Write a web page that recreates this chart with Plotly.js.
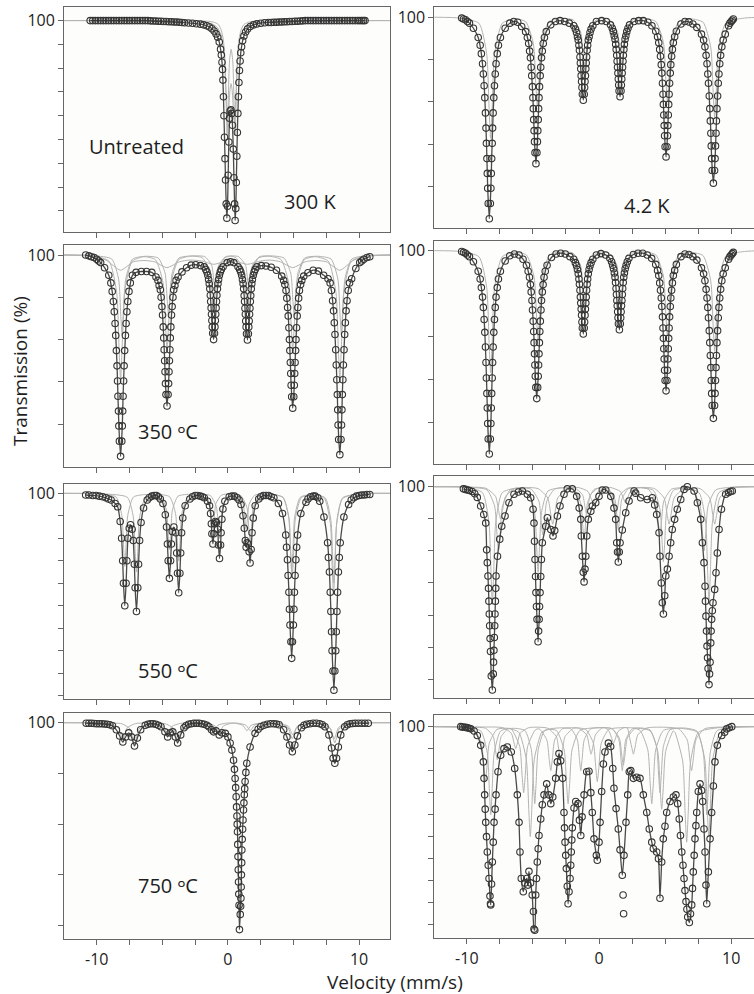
<!DOCTYPE html>
<html><head><meta charset="utf-8">
<script src="https://cdn.plot.ly/plotly-3.0.1.min.js"></script>
<style>html,body{margin:0;padding:0;overflow:hidden;background:#fff}#chart{width:780px;height:994px}</style>
</head><body><div id="chart"></div>
<script>
// ---------- tick labels ----------
const xTickVals = [-10,0,10];
const xTickText = ['-10','0','10'];
const xMinorVals = [-7.5,-5,-2.5,2.5,5,7.5];
const yTicksP1 = [92,93,94,95,96,97,98,99,100];
const yTicksP2 = [80,85,90,95,100];
const yTicksP3 = [80,85,90,95,100];
const yTicksP4 = [80,85,90,95,100];
const yTicksP5 = [82,84,86,88,90,92,94,96,98,100];
const yTicksP6 = [82,85,88,91,94,97,100];
const yTicksP7 = [80,85,90,95,100];
const yTicksP8 = [82,84,86,88,90,92,94,96,98,100];
const panelLabels = ['Untreated','300 K','4.2 K','350 \u1D52C','550 \u1D52C','750 \u1D52C'];

// ---------- observed spectra [velocity mm/s, transmission %] ----------
const p1Data = [[-10.5,100],[-10.1,100],[-9.7,100],[-9.3,100],[-8.9,100],[-8.5,100],[-8.1,100],[-7.7,100],[-7.3,100],[-6.9,100],[-6.5,100],[-6.1,100],[-5.7,99.98],[-5.3,99.97],[-4.9,99.96],[-4.5,99.95],[-4.1,99.94],[-3.7,99.93],[-3.3,99.91],[-3.0,99.9],[-2.7,99.89],[-2.4,99.87],[-2.1,99.85],[-1.85,99.82],[-1.6,99.78],[-1.4,99.73],[-1.22,99.66],[-1.05,99.56],[-0.9,99.44],[-0.78,99.3],[-0.66,99.1],[-0.56,98.8],[-0.5,98.55],[-0.45,98.25],[-0.41,97.95],[-0.38,97.5],[-0.34,96.8],[-0.3,96.0],[-0.26,95.1],[-0.22,94.2],[-0.18,93.3],[-0.13,92.3],[-0.08,91.7],[-0.03,92.2],[0.02,93.5],[0.07,94.9],[0.12,95.9],[0.17,96.2],[0.23,96.25],[0.29,96.1],[0.35,95.6],[0.41,94.6],[0.46,93.4],[0.51,92.3],[0.55,91.6],[0.6,92.1],[0.64,93.2],[0.68,94.3],[0.72,95.3],[0.76,96.1],[0.8,96.8],[0.84,97.4],[0.88,97.9],[0.93,98.3],[0.98,98.65],[1.04,98.9],[1.12,99.15],[1.22,99.35],[1.35,99.52],[1.5,99.65],[1.7,99.75],[1.95,99.82],[2.2,99.86],[2.5,99.89],[2.8,99.91],[3.1,99.92],[3.5,99.93],[3.9,99.94],[4.3,99.95],[4.7,99.96],[5.1,99.97],[5.5,99.98],[5.9,100],[6.3,100],[6.7,100],[7.1,100],[7.5,100],[7.9,100],[8.3,100],[8.7,100],[9.1,100],[9.5,100],[9.9,100],[10.2,100],[10.45,100]];
const p1Extra = [[-10.3,100],[-9.9,100],[-9.5,100],[-9.1,100],[-8.7,100],[-8.3,100],[-7.9,100],[-7.5,100],[-7.1,100],[-6.7,100],[-6.3,100],[-5.9,99.99],[-5.5,99.98],[-5.1,99.97],[-4.7,99.96],[-4.3,99.95],[-3.9,99.94],[-3.5,99.92],[3.3,99.92],[3.7,99.93],[4.1,99.94],[4.5,99.95],[4.9,99.96],[5.3,99.97],[5.7,99.99],[6.1,100],[6.5,100],[6.9,100],[7.3,100],[7.7,100],[8.1,100],[8.5,100],[8.9,100],[9.3,100],[9.7,100],[10.05,100],[10.33,100]];

const p2Data = [[-10.39,99.9],[-10.1,99.7],[-9.8,99.3],[-9.5,98.7],[-9.14,97.6],[-8.90,95.7],[-8.75,93.3],[-8.64,90.5],[-8.55,86.9],[-8.48,83.3],[-8.42,79.8],[-8.30,76.2],[-8.18,79.8],[-8.12,83.3],[-8.05,86.9],[-7.96,90.5],[-7.85,93.3],[-7.70,95.7],[-7.46,97.6],[-7.1,98.7],[-6.75,99.3],[-6.45,99.5],[-6.15,99.4],[-5.85,98.9],[-5.55,98.3],[-5.32,96.9],[-5.19,95.2],[-5.09,93.1],[-5.00,90.5],[-4.94,87.9],[-4.88,85.3],[-4.77,82.7],[-4.66,85.3],[-4.60,87.9],[-4.54,90.5],[-4.45,93.1],[-4.35,95.2],[-4.22,96.9],[-3.99,98.3],[-3.65,99.1],[-3.3,99.5],[-2.95,99.6],[-2.6,99.5],[-2.25,99.3],[-1.91,99.0],[-1.70,98.2],[-1.57,97.3],[-1.48,96.1],[-1.41,94.6],[-1.35,93.1],[-1.29,91.7],[-1.19,90.2],[-1.09,91.7],[-1.03,93.1],[-0.97,94.6],[-0.90,96.1],[-0.81,97.3],[-0.68,98.2],[-0.47,99.0],[-0.2,99.5],[0.2,99.6],[0.55,99.5],[0.87,99.1],[1.08,98.3],[1.21,97.4],[1.30,96.2],[1.37,94.8],[1.43,93.4],[1.49,92.0],[1.59,90.6],[1.69,92.0],[1.75,93.4],[1.81,94.8],[1.88,96.2],[1.97,97.4],[2.10,98.3],[2.31,99.1],[2.65,99.5],[3.0,99.6],[3.35,99.6],[3.7,99.4],[4.0,99.0],[4.29,98.35],[4.52,97.0],[4.65,95.4],[4.75,93.4],[4.84,90.9],[4.90,88.45],[4.96,86.0],[5.07,83.5],[5.18,86.0],[5.24,88.45],[5.30,90.9],[5.39,93.4],[5.49,95.4],[5.62,97.0],[5.85,98.35],[6.2,99.2],[6.5,99.5],[6.8,99.45],[7.1,99.2],[7.4,98.8],[7.75,98.0],[8.01,96.5],[8.17,94.5],[8.28,92.2],[8.38,89.2],[8.46,86.3],[8.52,83.3],[8.65,80.4],[8.78,83.3],[8.85,86.3],[8.92,89.2],[9.02,92.2],[9.13,94.5],[9.29,96.5],[9.55,98.0],[9.8,99.0],[10.0,99.5],[10.16,99.8]];
const p2Extra = [[-10.25,99.8],[-9.95,99.5],[-8.38,78.0],[-8.45,81.55],[-8.52,85.1],[-8.59,88.7],[-8.69,91.9],[-8.81,94.5],[-8.99,96.7],[-8.22,78.0],[-8.15,81.55],[-8.08,85.1],[-8.01,88.7],[-7.91,91.9],[-7.79,94.5],[-7.61,96.7],[-4.84,84.0],[-4.91,86.6],[-4.97,89.2],[-5.04,91.8],[-5.13,94.1],[-5.25,96.0],[-5.42,97.6],[-4.70,84.0],[-4.63,86.6],[-4.57,89.2],[-4.50,91.8],[-4.41,94.1],[-4.29,96.0],[-4.13,97.6],[-1.26,90.9],[-1.32,92.4],[-1.38,93.9],[-1.44,95.3],[-1.52,96.7],[-1.63,97.7],[-1.79,98.6],[-1.12,90.9],[-1.06,92.4],[-1.0,93.9],[-0.94,95.3],[-0.86,96.7],[-0.75,97.7],[-0.6,98.6],[1.52,91.3],[1.46,92.7],[1.40,94.1],[1.34,95.5],[1.26,96.8],[1.15,97.8],[1.0,98.7],[1.66,91.3],[1.72,92.7],[1.78,94.1],[1.84,95.5],[1.92,96.8],[2.03,97.8],[2.19,98.7],[5.0,84.7],[4.93,87.2],[4.87,89.7],[4.80,92.2],[4.71,94.4],[4.59,96.2],[4.43,97.7],[5.14,84.7],[5.21,87.2],[5.27,89.7],[5.34,92.2],[5.43,94.4],[5.55,96.2],[5.72,97.7],[8.56,81.9],[8.49,84.8],[8.42,87.75],[8.34,90.7],[8.23,93.3],[8.10,95.5],[7.91,97.3],[8.74,81.9],[8.81,84.8],[8.88,87.75],[8.97,90.7],[9.07,93.3],[9.20,95.5],[9.39,97.3],[9.9,99.3],[10.08,99.65]];

const p3Data = [[-10.84,100.0],[-10.4,99.8],[-10.0,99.5],[-9.7,99.1],[-9.4,98.5],[-9.08,97.6],[-8.82,95.7],[-8.66,93.3],[-8.55,90.5],[-8.45,86.9],[-8.38,83.3],[-8.31,79.8],[-8.18,76.2],[-8.05,79.8],[-7.99,83.3],[-7.91,86.9],[-7.81,90.5],[-7.70,93.3],[-7.54,95.7],[-7.28,97.6],[-7.0,97.95],[-6.6,98.05],[-6.2,98.05],[-5.8,97.95],[-5.48,97.4],[-5.24,96.4],[-5.09,95.0],[-4.98,92.9],[-4.89,90.2],[-4.82,87.5],[-4.76,84.8],[-4.64,82.15],[-4.52,84.8],[-4.46,87.5],[-4.39,90.2],[-4.30,92.9],[-4.19,95.0],[-4.04,96.4],[-3.80,97.4],[-3.5,98.0],[-3.15,98.5],[-2.8,98.8],[-2.45,98.85],[-2.1,98.75],[-1.81,98.6],[-1.60,98.0],[-1.47,97.1],[-1.38,96.0],[-1.31,94.5],[-1.25,93.0],[-1.19,91.5],[-1.09,90.0],[-0.99,91.5],[-0.93,93.0],[-0.87,94.5],[-0.80,96.0],[-0.71,97.1],[-0.58,98.0],[-0.37,98.6],[-0.05,99.1],[0.2,99.2],[0.45,99.1],[0.77,98.6],[0.98,98.0],[1.11,97.1],[1.20,96.0],[1.27,94.5],[1.33,93.0],[1.39,91.5],[1.49,89.95],[1.59,91.5],[1.65,93.0],[1.71,94.5],[1.78,96.0],[1.87,97.1],[2.00,98.0],[2.21,98.6],[2.55,98.75],[2.9,98.7],[3.3,98.55],[3.7,98.2],[4.10,97.5],[4.34,96.5],[4.49,94.9],[4.60,92.8],[4.69,90.0],[4.76,87.3],[4.82,84.6],[4.94,81.9],[5.06,84.6],[5.12,87.3],[5.19,90.0],[5.28,92.8],[5.39,94.9],[5.54,96.5],[5.78,97.5],[6.1,97.9],[6.5,98.2],[6.9,98.1],[7.3,97.6],[7.63,97.2],[7.89,95.8],[8.05,93.4],[8.16,90.6],[8.26,87.0],[8.34,83.5],[8.40,79.9],[8.53,76.4],[8.66,79.9],[8.72,83.5],[8.80,87.0],[8.90,90.6],[9.01,93.4],[9.17,95.8],[9.43,97.2],[9.75,98.4],[10.05,99.1],[10.35,99.5],[10.81,99.8]];
const p3Extra = [[-10.6,99.9],[-10.2,99.7],[-9.85,99.3],[-8.27,78.0],[-8.34,81.55],[-8.41,85.1],[-8.50,88.7],[-8.60,91.9],[-8.73,94.5],[-8.92,96.7],[-8.09,78.0],[-8.02,81.55],[-7.95,85.1],[-7.87,88.7],[-7.76,91.9],[-7.63,94.5],[-7.44,96.7],[-4.72,83.5],[-4.79,86.2],[-4.86,88.8],[-4.93,91.5],[-5.03,93.9],[-5.15,95.9],[-5.33,97.0],[-4.56,83.5],[-4.49,86.2],[-4.42,88.8],[-4.35,91.5],[-4.25,93.9],[-4.13,95.9],[-3.95,97.0],[-1.16,90.75],[-1.22,92.25],[-1.28,93.75],[-1.34,95.25],[-1.42,96.6],[-1.53,97.6],[-1.69,98.3],[-1.02,90.75],[-0.96,92.25],[-0.9,93.75],[-0.84,95.25],[-0.76,96.6],[-0.65,97.6],[-0.5,98.3],[1.42,90.7],[1.36,92.2],[1.30,93.7],[1.24,95.2],[1.16,96.6],[1.05,97.6],[0.9,98.3],[1.56,90.7],[1.62,92.2],[1.68,93.7],[1.74,95.2],[1.82,96.6],[1.93,97.6],[2.08,98.3],[4.86,83.25],[4.79,86.0],[4.72,88.7],[4.65,91.4],[4.55,93.8],[4.43,95.8],[4.25,97.0],[5.02,83.25],[5.09,86.0],[5.16,88.7],[5.23,91.4],[5.33,93.8],[5.45,95.8],[5.63,97.0],[8.44,78.2],[8.37,81.7],[8.30,85.25],[8.22,88.8],[8.11,92.0],[7.98,94.6],[7.79,96.7],[8.62,78.2],[8.69,81.7],[8.76,85.25],[8.85,88.8],[8.95,92.0],[9.08,94.6],[9.27,96.7],[10.2,99.3],[10.6,99.7]];

const p4Data = [[-10.39,99.9],[-10.1,99.7],[-9.8,99.3],[-9.5,98.7],[-9.14,97.6],[-8.90,95.7],[-8.75,93.4],[-8.64,90.5],[-8.55,87.0],[-8.48,83.4],[-8.42,79.9],[-8.30,76.35],[-8.18,79.9],[-8.12,83.4],[-8.05,87.0],[-7.96,90.5],[-7.85,93.4],[-7.70,95.7],[-7.46,97.6],[-7.1,98.8],[-6.75,99.4],[-6.4,99.6],[-6.05,99.5],[-5.75,99.0],[-5.49,98.3],[-5.26,96.9],[-5.13,95.2],[-5.03,93.1],[-4.94,90.6],[-4.88,88.0],[-4.82,85.4],[-4.71,82.8],[-4.60,85.4],[-4.54,88.0],[-4.48,90.6],[-4.39,93.1],[-4.29,95.2],[-4.16,96.9],[-3.93,98.3],[-3.6,99.2],[-3.25,99.6],[-2.9,99.7],[-2.55,99.6],[-2.2,99.3],[-1.91,99.0],[-1.70,98.25],[-1.57,97.3],[-1.48,96.1],[-1.41,94.6],[-1.35,93.2],[-1.29,91.7],[-1.19,90.3],[-1.09,91.7],[-1.03,93.2],[-0.97,94.6],[-0.90,96.1],[-0.81,97.3],[-0.68,98.25],[-0.47,99.0],[-0.2,99.5],[0.15,99.65],[0.5,99.5],[0.82,99.1],[1.03,98.3],[1.16,97.4],[1.25,96.3],[1.32,94.9],[1.38,93.6],[1.44,92.2],[1.54,90.8],[1.64,92.2],[1.70,93.6],[1.76,94.9],[1.83,96.3],[1.92,97.4],[2.05,98.3],[2.26,99.1],[2.6,99.55],[2.95,99.7],[3.3,99.7],[3.65,99.5],[3.98,99.1],[4.29,98.4],[4.52,97.1],[4.65,95.4],[4.75,93.5],[4.84,91.0],[4.90,88.6],[4.96,86.1],[5.07,83.7],[5.18,86.1],[5.24,88.6],[5.30,91.0],[5.39,93.5],[5.49,95.4],[5.62,97.1],[5.85,98.4],[6.2,99.3],[6.5,99.6],[6.8,99.55],[7.1,99.3],[7.4,98.9],[7.75,98.0],[8.01,96.5],[8.17,94.5],[8.28,92.2],[8.38,89.3],[8.46,86.4],[8.52,83.4],[8.65,80.5],[8.78,83.4],[8.85,86.4],[8.92,89.3],[9.02,92.2],[9.13,94.5],[9.29,96.5],[9.55,98.0],[9.8,99.0],[10.0,99.5],[10.16,99.8]];
const p4Extra = [[-10.25,99.8],[-9.95,99.5],[-8.38,78.1],[-8.45,81.7],[-8.52,85.2],[-8.59,88.8],[-8.69,92.0],[-8.81,94.6],[-8.99,96.7],[-8.22,78.1],[-8.15,81.7],[-8.08,85.2],[-8.01,88.8],[-7.91,92.0],[-7.79,94.6],[-7.61,96.7],[-4.78,84.1],[-4.85,86.7],[-4.91,89.3],[-4.98,91.8],[-5.07,94.2],[-5.19,96.05],[-5.36,97.6],[-4.64,84.1],[-4.57,86.7],[-4.51,89.3],[-4.44,91.8],[-4.35,94.2],[-4.23,96.05],[-4.07,97.6],[-1.26,91.0],[-1.32,92.5],[-1.38,93.9],[-1.44,95.4],[-1.52,96.7],[-1.63,97.8],[-1.79,98.6],[-1.12,91.0],[-1.06,92.5],[-1.0,93.9],[-0.94,95.4],[-0.86,96.7],[-0.75,97.8],[-0.6,98.6],[1.47,91.5],[1.41,92.9],[1.35,94.2],[1.29,95.6],[1.21,96.9],[1.10,97.9],[0.95,98.7],[1.61,91.5],[1.67,92.9],[1.73,94.2],[1.79,95.6],[1.87,96.9],[1.98,97.9],[2.14,98.7],[5.0,84.9],[4.93,87.4],[4.87,89.8],[4.80,92.3],[4.71,94.5],[4.59,96.25],[4.43,97.7],[5.14,84.9],[5.21,87.4],[5.27,89.8],[5.34,92.3],[5.43,94.5],[5.55,96.25],[5.72,97.7],[8.56,82.0],[8.49,84.9],[8.42,87.8],[8.34,90.7],[8.23,93.4],[8.10,95.5],[7.91,97.3],[8.74,82.0],[8.81,84.9],[8.88,87.8],[8.97,90.7],[9.07,93.4],[9.20,95.5],[9.39,97.3],[9.9,99.3],[10.08,99.65]];

const p5Data = [[-10.84,99.85],[-10.3,99.8],[-9.8,99.75],[-9.3,99.6],[-8.9,99.4],[-8.6,99.1],[-8.40,98.8],[-8.21,97.5],[-8.10,96.0],[-8.02,94.0],[-7.96,92.0],[-7.86,90.0],[-7.76,92.0],[-7.70,94.0],[-7.62,96.0],[-7.52,96.9],[-7.42,97.2],[-7.3,96.8],[-7.21,95.8],[-7.13,93.7],[-7.07,91.6],[-6.97,89.5],[-6.87,91.6],[-6.81,93.7],[-6.73,95.8],[-6.62,97.4],[-6.43,98.7],[-6.15,99.4],[-5.8,99.75],[-5.45,99.8],[-5.15,99.5],[-4.95,99.1],[-4.77,98.1],[-4.68,97.0],[-4.61,95.5],[-4.55,94.0],[-4.46,92.44],[-4.37,94.0],[-4.31,95.5],[-4.24,96.6],[-4.12,97.0],[-3.97,96.5],[-3.90,94.7],[-3.84,92.9],[-3.75,91.16],[-3.66,92.9],[-3.60,94.7],[-3.53,96.5],[-3.44,97.8],[-3.26,98.9],[-2.9,99.5],[-2.5,99.8],[-2.1,99.75],[-1.8,99.6],[-1.55,99.3],[-1.40,98.9],[-1.32,98.2],[-1.26,97.3],[-1.22,96.4],[-1.14,95.5],[-1.07,96.4],[-1.02,97.3],[-0.95,97.5],[-0.88,97.4],[-0.78,96.8],[-0.72,95.4],[-0.64,94.2],[-0.56,95.4],[-0.52,96.5],[-0.46,97.7],[-0.38,98.6],[-0.23,99.3],[0.1,99.7],[0.5,99.75],[0.85,99.4],[1.0,99.0],[1.15,98.0],[1.25,96.9],[1.33,95.8],[1.39,95.2],[1.46,95.6],[1.54,95.5],[1.62,94.8],[1.69,93.8],[1.77,95.0],[1.84,96.5],[1.93,97.8],[2.08,98.9],[2.35,99.5],[2.7,99.8],[3.1,99.8],[3.5,99.6],[3.85,99.1],[4.16,98.2],[4.41,96.3],[4.54,94.1],[4.65,91.2],[4.73,88.3],[4.86,85.33],[4.99,88.3],[5.07,91.2],[5.18,94.1],[5.31,96.3],[5.56,98.2],[5.95,99.2],[6.3,99.7],[6.65,99.75],[7.0,99.3],[7.32,97.9],[7.60,95.6],[7.74,93.0],[7.85,89.5],[7.94,86.0],[8.08,82.5],[8.22,86.0],[8.31,89.5],[8.42,93.0],[8.56,95.6],[8.84,97.9],[9.2,99.0],[9.6,99.6],[10.0,99.8],[10.4,99.85],[10.81,99.9]];
const p5Extra = [[-10.6,99.85],[-10.05,99.8],[-9.55,99.7],[-9.1,99.5],[-6.0,99.6],[-5.62,99.8],[-5.3,99.7],[-2.7,99.7],[-2.3,99.8],[-1.95,99.7],[0.3,99.75],[0.7,99.6],[2.5,99.7],[2.9,99.8],[3.3,99.7],[6.1,99.5],[6.5,99.75],[6.85,99.6],[9.4,99.4],[9.8,99.75],[10.2,99.85],[10.6,99.9],[4.80,86.8],[4.69,89.7],[4.59,92.7],[4.47,95.2],[4.92,86.8],[5.03,89.7],[5.12,92.7],[5.24,95.2],[8.01,84.2],[7.90,87.7],[7.80,91.2],[7.66,94.3],[8.15,84.2],[8.26,87.7],[8.36,91.2],[8.49,94.3]];

const p6Data = [[-10.26,99.8],[-9.95,99.7],[-9.6,99.55],[-9.21,99.0],[-8.95,98.2],[-8.72,97.4],[-8.57,96.6],[-8.5,94.1],[-8.40,91.65],[-8.33,89.3],[-8.27,87.0],[-8.21,84.6],[-8.15,82.3],[-8.07,81.0],[-8.0,82.5],[-7.95,84.7],[-7.89,87.0],[-7.84,89.3],[-7.79,91.65],[-7.68,93.5],[-7.51,95.1],[-7.36,96.3],[-7.11,97.26],[-6.81,98.5],[-6.43,99.3],[-5.80,99.6],[-5.42,99.3],[-5.17,98.97],[-4.99,97.9],[-4.92,96.6],[-4.84,93.2],[-4.77,90.1],[-4.69,87.6],[-4.61,85.5],[-4.53,87.6],[-4.46,90.1],[-4.36,93.2],[-4.29,94.76],[-4.03,96.3],[-3.91,97.1],[-3.65,96.0],[-3.48,95.4],[-3.35,95.9],[-3.15,97.26],[-2.95,98.2],[-2.65,99.3],[-2.40,99.8],[-2.02,99.8],[-1.69,99.1],[-1.50,98.0],[-1.38,96.95],[-1.34,95.4],[-1.26,93.5],[-1.19,92.0],[-1.13,91.1],[-1.06,92.3],[-1.0,93.5],[-0.93,95.4],[-0.81,96.95],[-0.62,97.7],[-0.5,98.2],[-0.25,98.5],[0.0,99.1],[0.25,99.7],[0.51,99.7],[0.89,99.1],[1.13,98.0],[1.26,96.95],[1.34,94.76],[1.40,93.9],[1.46,92.96],[1.53,93.9],[1.59,94.76],[1.76,95.95],[2.02,97.57],[2.27,98.66],[2.65,99.6],[2.77,99.4],[3.15,98.97],[3.65,98.8],[4.03,98.97],[4.21,98.3],[4.36,97.4],[4.54,95.7],[4.61,93.5],[4.71,91.0],[4.79,89.15],[4.87,88.1],[4.97,89.8],[5.05,91.65],[5.17,92.3],[5.30,93.5],[5.42,94.76],[5.54,96.0],[5.72,96.95],[5.92,97.9],[6.18,98.8],[6.43,99.75],[6.68,100.0],[7.19,99.6],[7.44,98.5],[7.69,96.95],[7.82,94.76],[7.94,92.9],[8.02,90.7],[8.09,87.9],[8.17,85.1],[8.25,83.0],[8.32,81.5],[8.40,83.6],[8.45,85.4],[8.52,87.6],[8.62,89.15],[8.75,90.4],[8.85,91.96],[8.95,93.8],[9.08,96.0],[9.26,97.9],[9.58,99.3],[10.08,99.6]];
const p6Extra = [[-10.1,99.75],[-9.8,99.65],[-9.4,99.35],[-8.45,92.9],[-8.36,90.5],[-8.30,88.1],[-8.24,85.8],[-7.98,83.6],[-7.92,85.9],[-7.87,88.1],[-7.81,90.5],[-4.88,94.9],[-4.80,91.6],[-4.73,88.8],[-4.57,86.5],[-4.50,88.8],[-4.41,91.6],[-6.1,99.5],[9.8,99.45],[9.95,99.55],[8.21,84.0],[8.13,86.5],[8.05,89.3],[8.36,82.5],[8.48,86.5],[8.57,88.4]];

const p7Data = [[-10.8,99.95],[-10.4,99.95],[-10.0,99.9],[-9.6,99.9],[-9.2,99.85],[-8.8,99.7],[-8.5,99.3],[-8.25,98.7],[-8.01,98.1],[-7.8,98.6],[-7.56,99.0],[-7.35,98.6],[-7.12,97.7],[-6.9,98.5],[-6.65,99.3],[-6.3,99.75],[-5.9,99.9],[-5.5,99.85],[-5.1,99.6],[-4.8,99.1],[-4.59,98.6],[-4.4,99.0],[-4.2,99.1],[-4.0,98.6],[-3.83,98.0],[-3.6,98.8],[-3.35,99.5],[-3.0,99.85],[-2.6,99.95],[-2.2,99.95],[-1.8,99.85],[-1.45,99.6],[-1.25,99.3],[-1.09,99.1],[-0.9,99.2],[-0.66,98.8],[-0.45,99.0],[-0.2,98.95],[0.0,98.6],[0.17,98.0],[0.3,97.3],[0.43,96.3],[0.55,94.5],[0.63,92.7],[0.69,90.8],[0.73,89.25],[0.77,86.8],[0.81,84.3],[0.85,82.0],[0.88,79.6],[0.94,81.1],[0.99,82.7],[1.03,85.0],[1.06,87.45],[1.12,89.5],[1.19,91.4],[1.25,92.9],[1.31,94.2],[1.44,96.0],[1.69,97.6],[2.07,98.95],[2.5,99.6],[3.0,99.85],[3.5,99.9],[3.9,99.8],[4.25,99.3],[4.5,98.6],[4.7,97.8],[4.91,97.14],[5.1,97.8],[5.3,98.7],[5.6,99.5],[6.0,99.85],[6.5,99.95],[7.0,99.9],[7.4,99.6],[7.7,98.8],[7.9,97.5],[8.02,96.5],[8.15,96.0],[8.28,96.5],[8.42,97.6],[8.6,98.8],[8.9,99.6],[9.3,99.9],[9.7,99.95],[10.2,99.95],[10.7,99.95]];
const p7Extra = [[-10.6,99.95],[-10.2,99.93],[-9.8,99.9],[-9.4,99.88],[-9.0,99.8],[-6.1,99.85],[-5.7,99.9],[-5.3,99.75],[-3.2,99.7],[-2.8,99.9],[-2.4,99.95],[-2.0,99.9],[-1.6,99.75],[2.3,99.35],[2.75,99.75],[3.25,99.9],[3.7,99.87],[5.8,99.75],[6.25,99.9],[6.75,99.95],[7.2,99.8],[9.1,99.8],[9.5,99.93],[9.95,99.95],[10.45,99.95],[0.5,95.4],[0.59,93.6],[0.66,91.7],[0.71,90.0],[0.75,88.0],[0.79,85.5],[0.83,83.1],[0.97,81.9],[1.01,83.8],[1.05,86.2],[1.09,88.5],[1.15,90.4],[1.22,92.1],[1.28,93.5],[1.37,95.1]];

const p8Data = [[-10.46,100.0],[-10.2,99.95],[-9.95,99.9],[-9.7,99.8],[-9.45,99.6],[-9.21,99.2],[-8.95,98.3],[-8.75,96.8],[-8.65,93.8],[-8.57,91.3],[-8.45,88.6],[-8.32,86.2],[-8.25,84.6],[-8.19,83.8],[-8.07,87.7],[-7.94,91.3],[-7.79,93.8],[-7.64,95.9],[-7.44,97.4],[-7.19,98.0],[-6.94,98.15],[-6.64,97.7],[-6.38,96.2],[-6.18,93.8],[-6.05,91.3],[-5.98,88.6],[-5.88,86.2],[-5.73,85.0],[-5.6,85.8],[-5.47,86.2],[-5.38,85.6],[-5.30,86.85],[-5.18,85.8],[-5.05,84.7],[-4.92,81.6],[-4.86,81.5],[-4.79,84.7],[-4.67,87.7],[-4.54,90.1],[-4.41,91.6],[-4.29,92.9],[-4.16,93.8],[-3.96,94.8],[-3.8,93.8],[-3.65,93.0],[-3.5,93.6],[-3.28,95.3],[-3.15,96.8],[-3.03,97.55],[-2.9,96.9],[-2.75,95.3],[-2.65,92.2],[-2.57,89.5],[-2.47,87.1],[-2.34,83.9],[-2.19,86.2],[-2.10,88.6],[-2.02,90.8],[-1.89,92.6],[-1.76,93.2],[-1.59,93.0],[-1.48,91.5],[-1.38,90.1],[-1.28,91.8],[-1.13,93.8],[-0.93,95.9],[-0.76,95.95],[-0.62,94.0],[-0.51,92.2],[-0.38,89.8],[-0.2,88.3],[-0.13,87.85],[0.0,89.5],[0.08,91.3],[0.2,94.1],[0.33,96.6],[0.45,97.7],[0.71,98.5],[0.88,98.2],[1.04,96.2],[1.13,94.4],[1.29,92.55],[1.46,90.7],[1.59,88.8],[1.76,86.5],[1.89,88.3],[2.04,91.3],[2.17,93.8],[2.29,95.9],[2.4,96.0],[2.6,95.3],[2.85,95.4],[3.1,95.3],[3.35,93.8],[3.61,92.2],[3.8,90.7],[3.99,89.5],[4.11,88.9],[4.36,88.6],[4.5,88.0],[4.61,84.4],[4.74,87.7],[4.86,89.8],[4.99,90.95],[5.12,92.2],[5.37,93.2],[5.62,93.6],[5.82,93.8],[5.95,93.0],[6.07,91.6],[6.26,88.6],[6.43,86.2],[6.58,84.1],[6.71,82.7],[6.83,82.2],[7.01,83.8],[7.13,86.8],[7.26,89.8],[7.39,92.2],[7.51,94.1],[7.64,94.8],[7.76,94.2],[7.84,93.2],[7.94,90.7],[8.02,88.6],[8.09,85.6],[8.15,83.9],[8.27,86.8],[8.40,89.8],[8.52,92.2],[8.65,94.6],[8.77,96.8],[8.95,98.3],[9.28,99.2],[9.66,99.8],[10.04,100.0]];
const p8Extra = [[1.82,84.7],[1.86,83.0],[-10.33,99.97],[-10.08,99.93],[-9.83,99.85],[9.5,99.5],[9.85,99.9],[-8.70,95.3],[-8.61,92.5],[-8.51,90.0],[-8.38,87.4],[-8.13,85.7],[-8.00,89.5],[-7.86,92.5],[-2.61,90.8],[-2.52,88.3],[-2.40,85.5],[-2.27,85.0],[-2.14,87.4],[-2.06,89.7],[6.16,90.1],[6.35,87.4],[6.50,85.1],[6.65,83.4],[6.92,83.0],[7.07,85.3],[7.20,88.3],[7.33,91.0],[-8.21,83.9],[-4.96,83.2],[-4.73,86.2],[-4.60,88.9]];

// ---------- fitted sub-spectra (grey) ----------
const p1CompA = [[-12.5,100],[-1.5,99.97],[-1.0,99.92],[-0.7,99.82],[-0.5,99.58],[-0.35,99.2],[-0.25,98.55],[-0.15,96.9],[-0.06,95.2],[0.03,96.7],[0.12,98.3],[0.245,98.8],[0.37,98.3],[0.46,96.7],[0.55,95.2],[0.64,96.9],[0.74,98.55],[0.84,99.2],[0.99,99.58],[1.19,99.82],[1.49,99.92],[2.0,99.97],[12.5,100]];
const p1CompB = [[-12.5,100],[-3.0,99.97],[-2.0,99.94],[-1.2,99.86],[-0.8,99.71],[-0.5,99.35],[-0.35,98.87],[-0.22,97.95],[-0.12,96.7],[-0.02,95.75],[0.08,96.4],[0.16,97.1],[0.24,97.35],[0.32,97.1],[0.40,96.4],[0.50,95.75],[0.60,96.7],[0.70,97.95],[0.83,98.87],[0.98,99.35],[1.28,99.71],[1.68,99.86],[2.48,99.94],[3.48,99.97],[12.5,100]];
const p2Comp = [[-12.5,100],[-10.5,99.9],[-9.08,99.28],[-8.5,95.7],[-8.32,89.4],[-8.2,85.7],[-8.08,89.4],[-7.9,95.7],[-7.32,99.28],[-6.4,99.8],[-5.55,99.48],[-4.97,96.88],[-4.79,92.3],[-4.67,89.6],[-4.55,92.3],[-4.37,96.88],[-3.79,99.48],[-2.9,99.85],[-1.97,99.7],[-1.39,98.23],[-1.21,95.63],[-1.09,94.1],[-0.97,95.63],[-0.79,98.23],[-0.21,99.7],[0.3,99.85],[0.81,99.72],[1.39,98.32],[1.57,95.86],[1.69,94.4],[1.81,95.86],[1.99,98.32],[2.57,99.72],[3.4,99.85],[4.29,99.5],[4.87,97.03],[5.05,92.67],[5.17,90.1],[5.29,92.67],[5.47,97.03],[6.05,99.5],[6.96,99.8],[7.87,99.41],[8.45,96.46],[8.63,91.27],[8.75,88.2],[8.87,91.27],[9.05,96.46],[9.63,99.41],[11,99.9],[12.5,100]];
const p3Broad = [[-12.5,100],[-10.5,99.85],[-9.3,99.4],[-8.18,98.2],[-7.2,99.2],[-6.4,99.35],[-5.6,99.2],[-4.64,98.5],[-3.7,99.2],[-2.9,99.4],[-2.0,99.3],[-1.09,98.9],[0.2,99.4],[1.49,98.9],[2.5,99.3],[3.2,99.4],[4.0,99.2],[4.94,98.5],[5.9,99.2],[6.7,99.35],[7.5,99.2],[8.53,98.2],[9.6,99.4],[10.6,99.85],[12.5,100]];
const p3S1 = [[-12.5,100],[-10.2,99.9],[-9.06,99.26],[-8.48,95.59],[-8.3,89.12],[-8.18,85.3],[-8.06,89.12],[-7.88,95.59],[-7.3,99.26],[-6.4,99.8],[-5.52,99.44],[-4.94,96.67],[-4.76,91.79],[-4.64,88.9],[-4.52,91.79],[-4.34,96.67],[-3.76,99.44],[-2.9,99.85],[-1.97,99.69],[-1.39,98.14],[-1.21,95.41],[-1.09,93.8],[-0.97,95.41],[-0.79,98.14],[-0.21,99.69],[0.2,99.85],[0.61,99.69],[1.19,98.14],[1.37,95.41],[1.49,93.8],[1.61,95.41],[1.79,98.14],[2.37,99.69],[3.2,99.85],[4.06,99.44],[4.64,96.64],[4.82,91.71],[4.94,88.8],[5.06,91.71],[5.24,96.64],[5.82,99.44],[6.7,99.8],[7.65,99.27],[8.23,95.62],[8.41,89.2],[8.53,85.4],[8.65,89.2],[8.83,95.62],[9.41,99.27],[10.6,99.9],[12.5,100]];
const p3S2 = [[-12.5,100],[-10.2,99.92],[-8.85,99.52],[-8.33,97.15],[-8.17,92.97],[-8.06,90.5],[-7.95,92.97],[-7.79,97.15],[-7.27,99.52],[-6.3,99.85],[-5.31,99.64],[-4.79,97.87],[-4.63,94.75],[-4.52,92.9],[-4.41,94.75],[-4.25,97.87],[-3.73,99.64],[-2.75,99.9],[-1.76,99.8],[-1.24,98.8],[-1.08,97.04],[-0.97,96.0],[-0.86,97.04],[-0.7,98.8],[-0.18,99.8],[0.32,99.9],[0.82,99.8],[1.34,98.8],[1.5,97.04],[1.61,96.0],[1.72,97.04],[1.88,98.8],[2.4,99.8],[3.3,99.9],[4.27,99.64],[4.79,97.84],[4.95,94.67],[5.06,92.8],[5.17,94.67],[5.33,97.84],[5.85,99.64],[6.85,99.85],[7.86,99.53],[8.38,97.18],[8.54,93.04],[8.65,90.6],[8.76,93.04],[8.92,97.18],[9.44,99.53],[10.6,99.92],[12.5,100]];
const p4Comp = [[-12.5,100],[-10.5,99.9],[-9.08,99.29],[-8.5,95.74],[-8.32,89.49],[-8.2,85.8],[-8.08,89.49],[-7.9,95.74],[-7.32,99.29],[-6.4,99.8],[-5.49,99.49],[-4.91,96.9],[-4.73,92.4],[-4.61,89.7],[-4.49,92.4],[-4.31,96.9],[-3.73,99.49],[-2.9,99.85],[-1.97,99.71],[-1.39,98.26],[-1.21,95.7],[-1.09,94.2],[-0.97,95.7],[-0.79,98.26],[-0.21,99.71],[0.3,99.85],[0.76,99.72],[1.34,98.35],[1.52,95.93],[1.64,94.5],[1.76,95.93],[1.94,98.35],[2.52,99.72],[3.4,99.85],[4.29,99.51],[4.87,97.06],[5.05,92.75],[5.17,90.2],[5.29,92.75],[5.47,97.06],[6.05,99.51],[6.96,99.8],[7.87,99.42],[8.45,96.49],[8.63,91.34],[8.75,88.3],[8.87,91.34],[9.05,96.49],[9.63,99.42],[11,99.9],[12.5,100]];
const p5A = [[-12.5,100],[-10,99.95],[-8.52,99.67],[-8.09,98.05],[-7.95,95.19],[-7.86,93.5],[-7.77,95.19],[-7.63,98.05],[-7.2,99.67],[-6.2,99.9],[-5.12,99.75],[-4.69,98.5],[-4.55,96.3],[-4.46,95.0],[-4.37,96.3],[-4.23,98.5],[-3.8,99.75],[-2.8,99.92],[-1.8,99.85],[-1.37,99.1],[-1.23,97.78],[-1.14,97.0],[-1.05,97.78],[-0.91,99.1],[-0.48,99.85],[0.13,99.93],[0.73,99.84],[1.16,99.04],[1.3,97.63],[1.39,96.8],[1.48,97.63],[1.62,99.04],[2.05,99.84],[3.1,99.93],[4.2,99.65],[4.63,97.9],[4.77,94.82],[4.86,93.0],[4.95,94.82],[5.09,97.9],[5.52,99.65],[6.5,99.9],[7.42,99.6],[7.85,97.6],[7.99,94.08],[8.08,92.0],[8.17,94.08],[8.31,97.6],[8.74,99.6],[10,99.95],[12.5,100]];
const p5B = [[-12.5,100],[-9.5,99.95],[-7.67,99.65],[-7.21,97.9],[-7.07,94.82],[-6.97,93.0],[-6.87,94.82],[-6.73,97.9],[-6.27,99.65],[-5.35,99.9],[-4.45,99.7],[-3.99,98.2],[-3.85,95.56],[-3.75,94.0],[-3.65,95.56],[-3.51,98.2],[-3.05,99.7],[-2.2,99.92],[-1.34,99.8],[-0.88,98.8],[-0.74,97.04],[-0.64,96.0],[-0.54,97.04],[-0.4,98.8],[0.06,99.8],[0.52,99.9],[0.99,99.79],[1.45,98.74],[1.59,96.89],[1.69,95.8],[1.79,96.89],[1.93,98.74],[2.39,99.79],[3.3,99.93],[4.2,99.62],[4.66,97.75],[4.8,94.45],[4.9,92.5],[5.0,94.45],[5.14,97.75],[5.6,99.62],[6.5,99.88],[7.35,99.55],[7.81,97.3],[7.95,93.34],[8.05,91.0],[8.15,93.34],[8.29,97.3],[8.75,99.55],[10,99.95],[12.5,100]];
const p6C1 = [[-12.5,100],[-10,99.95],[-8.82,99.45],[-8.33,96.7],[-8.17,91.86],[-8.07,89.0],[-7.97,91.86],[-7.81,96.7],[-7.32,99.45],[-6.35,99.85],[-5.36,99.6],[-4.87,97.6],[-4.71,94.08],[-4.61,92.0],[-4.51,94.08],[-4.35,97.6],[-3.86,99.6],[-2.85,99.9],[-1.88,99.75],[-1.39,98.5],[-1.23,96.3],[-1.13,95.0],[-1.03,96.3],[-0.87,98.5],[-0.38,99.75],[0.17,99.9],[0.71,99.8],[1.2,98.8],[1.36,97.04],[1.46,96.0],[1.56,97.04],[1.72,98.8],[2.21,99.8],[3.15,99.92],[4.12,99.65],[4.61,97.9],[4.77,94.82],[4.87,93.0],[4.97,94.82],[5.13,97.9],[5.62,99.65],[6.6,99.88],[7.57,99.45],[8.06,96.7],[8.22,91.86],[8.32,89.0],[8.42,91.86],[8.58,96.7],[9.07,99.45],[10.2,99.95],[12.5,100]];
const p6C2 = [[-12.5,100],[-9.8,99.95],[-8.48,99.7],[-7.9,98.2],[-7.72,95.56],[-7.6,94.0],[-7.48,95.56],[-7.3,98.2],[-6.72,99.7],[-5.9,99.88],[-5.13,99.77],[-4.55,98.65],[-4.37,96.67],[-4.25,95.5],[-4.13,96.67],[-3.95,98.65],[-3.37,99.77],[-2.6,99.92],[-1.83,99.87],[-1.25,99.25],[-1.07,98.15],[-0.95,97.5],[-0.83,98.15],[-0.65,99.25],[-0.07,99.87],[0.42,99.87],[1.0,99.25],[1.18,98.15],[1.3,97.5],[1.42,98.15],[1.6,99.25],[2.18,99.87],[2.95,99.92],[3.72,99.77],[4.3,98.65],[4.48,96.67],[4.6,95.5],[4.72,96.67],[4.9,98.65],[5.48,99.77],[6.3,99.9],[7.07,99.7],[7.65,98.2],[7.83,95.56],[7.95,94.0],[8.07,95.56],[8.25,98.2],[8.83,99.7],[10,99.95],[12.5,100]];
const p6C3 = [[-12.5,100],[-10,99.97],[-8.55,99.85],[-7.83,99.1],[-7.6,97.78],[-7.45,97.0],[-7.3,97.78],[-7.07,99.1],[-6.35,99.85],[-5.5,99.93],[-4.6,99.82],[-3.88,98.95],[-3.65,97.41],[-3.5,96.5],[-3.35,97.41],[-3.12,98.95],[-2.4,99.82],[-1.55,99.92],[-0.83,99.55],[-0.6,98.89],[-0.45,98.5],[-0.3,98.89],[-0.07,99.55],[0.65,99.92],[0.9,99.92],[1.62,99.55],[1.85,98.89],[2.0,98.5],[2.15,98.89],[2.38,99.55],[3.1,99.92],[4.2,99.82],[4.92,98.95],[5.15,97.41],[5.3,96.5],[5.45,97.41],[5.68,98.95],[6.4,99.82],[7.0,99.9],[7.65,99.82],[8.37,98.95],[8.6,97.41],[8.75,96.5],[8.9,97.41],[9.13,98.95],[9.85,99.82],[12.5,100]];
const p7A = [[-12.5,100],[-10,99.98],[-8.98,99.92],[-8.34,99.49],[-8.14,98.74],[-8.01,98.3],[-7.88,98.74],[-7.68,99.49],[-7.04,99.92],[-6.3,99.97],[-5.56,99.94],[-4.92,99.64],[-4.72,99.11],[-4.59,98.8],[-4.46,99.11],[-4.26,99.64],[-3.62,99.94],[-2.84,99.98],[-2.06,99.96],[-1.42,99.76],[-1.22,99.41],[-1.09,99.2],[-0.96,99.41],[-0.76,99.76],[-0.12,99.96],[0.48,99.96],[1.12,99.76],[1.32,99.41],[1.45,99.2],[1.58,99.41],[1.78,99.76],[2.42,99.96],[3.2,99.98],[3.94,99.92],[4.58,99.52],[4.78,98.82],[4.91,98.4],[5.04,98.82],[5.24,99.52],[5.88,99.92],[6.5,99.97],[7.18,99.9],[7.82,99.4],[8.02,98.52],[8.15,98.0],[8.28,98.52],[8.48,99.4],[9.12,99.9],[10,99.98],[12.5,100]];
const p7B = [[-12.5,100],[-9.5,99.98],[-8.09,99.9],[-7.45,99.37],[-7.25,98.45],[-7.12,97.9],[-6.99,98.45],[-6.79,99.37],[-6.15,99.9],[-5.5,99.96],[-4.8,99.91],[-4.16,99.46],[-3.96,98.67],[-3.83,98.2],[-3.7,98.67],[-3.5,99.46],[-2.86,99.91],[-2.25,99.97],[-1.63,99.95],[-0.99,99.7],[-0.79,99.26],[-0.66,99.0],[-0.53,99.26],[-0.33,99.7],[0.31,99.95],[0.73,99.96],[1.37,99.76],[1.57,99.41],[1.7,99.2],[1.83,99.41],[2.03,99.76],[2.67,99.96],[3.3,99.98],[3.98,99.94],[4.62,99.64],[4.82,99.11],[4.95,98.8],[5.08,99.11],[5.28,99.64],[5.92,99.94],[6.5,99.98],[7.13,99.92],[7.77,99.52],[7.97,98.82],[8.1,98.4],[8.23,98.82],[8.43,99.52],[9.07,99.92],[10,99.98],[12.5,100]];
const p8G1 = [[-12.5,100],[-10,99.95],[-8.94,99.6],[-8.45,97.6],[-8.29,94.08],[-8.19,92.0],[-8.09,94.08],[-7.93,97.6],[-7.44,99.6],[-6.5,99.85],[-5.61,99.65],[-5.12,97.9],[-4.96,94.82],[-4.86,93.0],[-4.76,94.82],[-4.6,97.9],[-4.11,99.65],[-3.1,99.88],[-2.13,99.8],[-1.64,98.8],[-1.48,97.04],[-1.38,96.0],[-1.28,97.04],[-1.12,98.8],[-0.63,99.8],[0.2,99.9],[1.01,99.8],[1.5,98.8],[1.66,97.04],[1.76,96.0],[1.86,97.04],[2.02,98.8],[2.51,99.8],[3.2,99.88],[3.86,99.7],[4.35,98.2],[4.51,95.56],[4.61,94.0],[4.71,95.56],[4.87,98.2],[5.36,99.7],[6.4,99.88],[7.4,99.6],[7.89,97.6],[8.05,94.08],[8.15,92.0],[8.25,94.08],[8.41,97.6],[8.9,99.6],[10,99.95],[12.5,100]];
const p8G2 = [[-12.5,100],[-10.5,99.95],[-9.48,99.75],[-8.9,98.5],[-8.72,96.3],[-8.6,95.0],[-8.48,96.3],[-8.3,98.5],[-7.72,99.75],[-6.9,99.85],[-6.08,99.5],[-5.5,97.0],[-5.32,92.6],[-5.2,90.0],[-5.08,92.6],[-4.9,97.0],[-4.32,99.5],[-3.77,99.75],[-3.22,99.65],[-2.64,97.9],[-2.46,94.82],[-2.34,93.0],[-2.22,94.82],[-2.04,97.9],[-1.46,99.65],[-0.25,99.9],[0.96,99.82],[1.54,98.95],[1.72,97.41],[1.84,96.5],[1.96,97.41],[2.14,98.95],[2.72,99.82],[3.11,99.65],[3.69,97.9],[3.87,94.82],[3.99,93.0],[4.11,94.82],[4.29,97.9],[4.87,99.65],[6.1,99.85],[7.42,99.5],[8.0,97.0],[8.18,92.6],[8.3,90.0],[8.42,92.6],[8.6,97.0],[9.18,99.5],[10.5,99.95],[12.5,100]];
const p8G3 = [[-12.5,100],[-10,99.95],[-8.58,99.85],[-8.0,99.1],[-7.82,97.78],[-7.7,97.0],[-7.58,97.78],[-7.4,99.1],[-6.82,99.85],[-6.58,99.7],[-6.0,98.2],[-5.82,95.56],[-5.7,94.0],[-5.58,95.56],[-5.4,98.2],[-4.82,99.7],[-4.53,99.8],[-3.95,98.8],[-3.77,97.04],[-3.65,96.0],[-3.53,97.04],[-3.35,98.8],[-2.77,99.8],[-1.9,99.9],[-1.01,99.75],[-0.43,98.5],[-0.25,96.3],[-0.13,95.0],[-0.01,96.3],[0.17,98.5],[0.75,99.75],[2.3,99.9],[3.86,99.62],[4.44,97.75],[4.62,94.45],[4.74,92.5],[4.86,94.45],[5.04,97.75],[5.62,99.62],[5.75,99.47],[6.33,96.85],[6.51,92.23],[6.63,89.5],[6.75,92.23],[6.93,96.85],[7.51,99.47],[9,99.9],[12.5,100]];
const p8G4 = [[-12.5,100],[-9,99.97],[-7.27,99.9],[-6.63,99.4],[-6.43,98.52],[-6.3,98.0],[-6.17,98.52],[-5.97,99.4],[-5.33,99.9],[-4.6,99.95],[-3.87,99.85],[-3.23,99.1],[-3.03,97.78],[-2.9,97.0],[-2.77,97.78],[-2.57,99.1],[-1.93,99.85],[-1.57,99.87],[-0.93,99.25],[-0.73,98.15],[-0.6,97.5],[-0.47,98.15],[-0.27,99.25],[0.2,99.87],[0.45,99.92],[0.77,99.55],[0.97,98.89],[1.1,98.5],[1.23,98.89],[1.43,99.55],[1.9,99.92],[2.15,99.87],[2.27,99.25],[2.47,98.15],[2.6,97.5],[2.73,98.15],[2.93,99.25],[3.57,99.87],[4.8,99.95],[6.03,99.8],[6.67,98.8],[6.87,97.04],[7.0,96.0],[7.13,97.04],[7.33,98.8],[7.97,99.8],[9.5,99.97],[12.5,100]];

// ---------- build ----------
const FONT = '"Open Sans", "Noto Sans", "DejaVu Sans", sans-serif';
const xs = a => a.map(p => p[0]);
const ys = a => a.map(p => p[1]);

const panels = [
  {data:p1Data, extra:p1Extra, comps:[p1CompA,p1CompB], yt:yTicksP1, xd:[0.0821,0.5006], yd:[0.7669,0.9927], xr:[-12.49,12.39], yr:[91.13,100.56], bottom:false},
  {data:p2Data, extra:p2Extra, comps:[p2Comp], yt:yTicksP2, xd:[0.5568,0.9756], yd:[0.7703,0.9927], xr:[-12.46,12.25], yr:[75.06,101.18], bottom:false},
  {data:p3Data, extra:p3Extra, comps:[p3Broad,p3S1,p3S2], yt:yTicksP3, xd:[0.0821,0.5006], yd:[0.5299,0.7535], xr:[-12.49,12.39], yr:[74.91,101.18], bottom:false},
  {data:p4Data, extra:p4Extra, comps:[p4Comp], yt:yTicksP4, xd:[0.5568,0.9756], yd:[0.5329,0.7579], xr:[-12.46,12.25], yr:[75.16,101.16], bottom:false},
  {data:p5Data, extra:p5Extra, comps:[p5A,p5B], yt:yTicksP5, xd:[0.0821,0.5006], yd:[0.2965,0.5131], xr:[-12.49,12.39], yr:[81.69,100.83], bottom:false},
  {data:p6Data, extra:p6Extra, comps:[p6C1,p6C2,p6C3], yt:yTicksP6, xd:[0.5568,0.9756], yd:[0.2975,0.5211], xr:[-12.46,12.25], yr:[80.22,101.0], bottom:false},
  {data:p7Data, extra:p7Extra, comps:[p7A,p7B], yt:yTicksP7, xd:[0.0821,0.5006], yd:[0.0550,0.2824], xr:[-12.49,12.39], yr:[78.64,100.93], bottom:true},
  {data:p8Data, extra:p8Extra, comps:[p8G1,p8G2,p8G3,p8G4], yt:yTicksP8, xd:[0.5568,0.9756], yd:[0.0560,0.2807], xr:[-12.46,12.25], yr:[80.76,101.06], bottom:true}
];

const traces = [];
const layout = {
  width: 780, height: 994,
  margin: {l:0, r:0, t:0, b:0},
  paper_bgcolor: '#ffffff',
  plot_bgcolor: '#fdfdfb',
  showlegend: false,
  font: {family: FONT, color: '#222'},
  annotations: []
};

const markerStyle = {symbol:'circle-open', size:6.5, color:'#353535', line:{width:1.1}};

panels.forEach((p, i) => {
  const n = i + 1;
  const xa = n === 1 ? 'x' : 'x' + n;
  const ya = n === 1 ? 'y' : 'y' + n;
  p.comps.forEach(c => {
    traces.push({x: xs(c), y: ys(c), xaxis: xa, yaxis: ya, type: 'scatter', mode: 'lines',
      line: {color: '#b3b3b3', width: 1, shape: 'spline', smoothing: 0.6}, hoverinfo: 'skip'});
  });
  traces.push({x: xs(p.data), y: ys(p.data), xaxis: xa, yaxis: ya, type: 'scatter', mode: 'lines+markers',
    line: {color: '#4a4a4a', width: 1.3, shape: 'spline', smoothing: 0.6}, marker: markerStyle});
  traces.push({x: xs(p.extra), y: ys(p.extra), xaxis: xa, yaxis: ya, type: 'scatter', mode: 'markers', marker: markerStyle});
  const tickStyle = {ticks: 'outside', ticklen: 5, tickwidth: 1, tickcolor: '#666'};
  const axCommon = Object.assign({showline: true, linecolor: '#666', linewidth: 1, mirror: true,
    showgrid: false, zeroline: false, fixedrange: true,
    tickfont: {size: 16, family: FONT, color: '#222'}}, tickStyle);
  layout[n === 1 ? 'xaxis' : 'xaxis' + n] = Object.assign({}, axCommon, {
    domain: p.xd, range: p.xr, anchor: ya, tickmode: 'array', tickvals: xTickVals, ticktext: xTickText,
    showticklabels: p.bottom,
    minor: Object.assign({tickmode: 'array', tickvals: xMinorVals, showgrid: false}, tickStyle)});
  layout[n === 1 ? 'yaxis' : 'yaxis' + n] = Object.assign({}, axCommon, {
    domain: p.yd, range: p.yr, anchor: xa, tickmode: 'array', tickvals: [100], ticktext: ['100'],
    minor: Object.assign({tickmode: 'array', tickvals: p.yt.filter(v => v !== 100), showgrid: false}, tickStyle)});
});

const ann = (text, x, y, size, extra) => Object.assign({text, x, y, xref:'paper', yref:'paper',
  showarrow:false, xanchor:'center', yanchor:'middle', font:{size, family:FONT, color:'#1e1e1e'}}, extra || {});
layout.annotations.push(ann(panelLabels[0], 0.1756, 0.8531, 20));
layout.annotations.push(ann(panelLabels[1], 0.3987, 0.7968, 20));
layout.annotations.push(ann(panelLabels[2], 0.8295, 0.7928, 20));
layout.annotations.push(ann(panelLabels[3], 0.2154, 0.5654, 20));
layout.annotations.push(ann(panelLabels[4], 0.2154, 0.3259, 20));
layout.annotations.push(ann(panelLabels[5], 0.2154, 0.1087, 20));
layout.annotations.push(ann('Transmission (%)', 0.0256, 0.6268, 19, {textangle: -90}));
layout.annotations.push(ann('Velocity (mm/s)', 0.5064, 0.0125, 19));

Plotly.newPlot('chart', traces, layout, {staticPlot: true, displayModeBar: false});
</script>
</body></html>
